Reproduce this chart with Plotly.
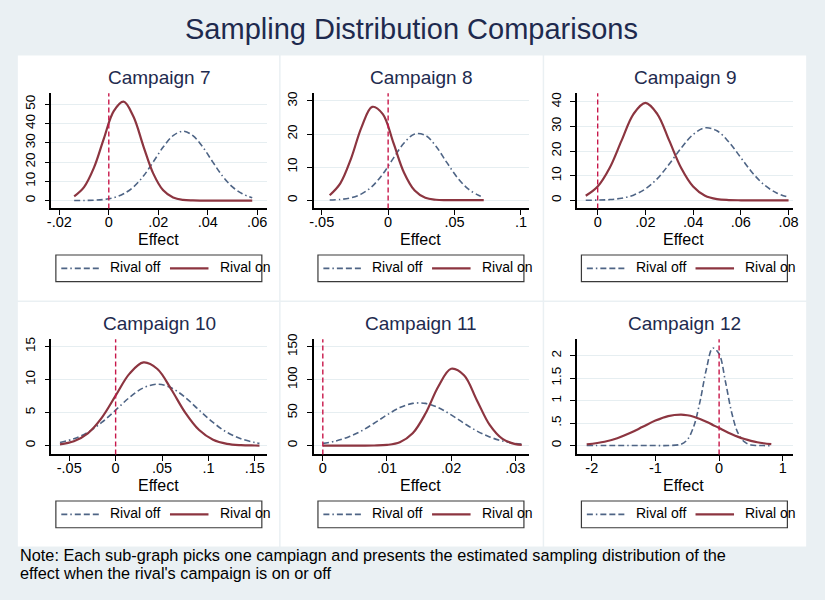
import plotly.graph_objects as go

# ---------------- data ----------------
main_title = "Sampling Distribution Comparisons"
note_lines = [
    "Note: Each sub-graph picks one campiagn and presents the estimated sampling distribution of the",
    "effect when the rival's campaign is on or off",
]
series_names = ["Rival off", "Rival on"]
x_title = "Effect"
ref_x = 0
campaigns = ["Campaign 7", "Campaign 8", "Campaign 9", "Campaign 10", "Campaign 11", "Campaign 12"]

c7_x = [-0.014, -0.010, -0.006, -0.002, 0.002, 0.006, 0.010, 0.014, 0.018, 0.022,
        0.026, 0.030, 0.034, 0.038, 0.042, 0.046, 0.050, 0.054, 0.058]
c7_off = [0.01, 0.05, 0.19, 0.56, 1.5, 3.5, 7.1, 12.7, 20.1, 27.8,
          33.7, 36.0, 33.7, 27.8, 20.1, 12.7, 7.1, 3.5, 1.5]
c7_on = [2.2, 7.0, 17.1, 32.2, 46.5, 51.4, 43.5, 28.2, 14.0, 5.3,
         1.6, 0.35, 0.06, 0.01, 0, 0, 0, 0, 0]

c8_x = [-0.044, -0.036, -0.028, -0.020, -0.012, -0.004, 0.004, 0.012, 0.020,
        0.028, 0.036, 0.044, 0.052, 0.060, 0.068, 0.072]
c8_off = [0.06, 0.23, 0.72, 1.9, 4.2, 7.9, 12.7, 17.3, 20.0,
          19.6, 16.3, 11.5, 6.9, 3.5, 1.5, 0.93]
c8_on = [1.5, 5.1, 12.5, 22.1, 28.2, 26.0, 17.3, 8.3, 2.9,
         0.72, 0.13, 0.02, 0, 0, 0, 0]

c9_x = [-0.005, 0.000, 0.005, 0.010, 0.015, 0.020, 0.025, 0.030, 0.035, 0.040,
        0.045, 0.050, 0.055, 0.060, 0.065, 0.070, 0.075, 0.080]
c9_off = [0.02, 0.09, 0.30, 0.85, 2.1, 4.6, 8.8, 14.7, 21.2, 26.7,
          29.4, 28.2, 23.6, 17.3, 11.0, 6.1, 3.0, 1.25]
c9_on = [1.85, 5.6, 13.1, 24.2, 35.0, 39.5, 35.0, 24.2, 13.1, 5.6,
         1.85, 0.48, 0.1, 0.015, 0, 0, 0, 0]

c10_x = [-0.060, -0.045, -0.030, -0.015, 0.000, 0.015, 0.030, 0.045, 0.060,
         0.075, 0.090, 0.105, 0.120, 0.135, 0.150, 0.155]
c10_off = [0.47, 1.03, 2.0, 3.5, 5.37, 7.3, 8.75, 9.3, 8.75,
           7.3, 5.37, 3.5, 2.0, 1.03, 0.47, 0.35]
c10_on = [0.19, 0.65, 1.85, 4.2, 7.56, 10.9, 12.6, 11.6, 8.5,
          5.0, 2.35, 0.88, 0.26, 0.06, 0.01, 0.0]

c11_x = [0.000, 0.002, 0.004, 0.006, 0.008, 0.010, 0.012, 0.014, 0.016,
         0.018, 0.020, 0.022, 0.024, 0.026, 0.028, 0.030, 0.031]
c11_off = [3.3, 6.9, 13.1, 22.2, 33.9, 46.6, 57.7, 64.1, 64.1,
           57.7, 46.6, 33.9, 22.2, 13.1, 6.9, 3.3, 2.2]
c11_on = [0, 0, 0, 0.01, 0.13, 0.95, 5.0, 18.6, 48.7,
          89.8, 116.7, 106.9, 69.0, 31.4, 10.1, 2.3, 0.95]

c12_x = [-2.08, -1.8, -1.6, -1.4, -1.2, -1.0, -0.8, -0.6, -0.5, -0.4, -0.3,
         -0.2, -0.1, 0.0, 0.1, 0.2, 0.3, 0.4, 0.5, 0.6, 0.7, 0.82]
c12_off = [0, 0, 0, 0, 0, 0, 0, 0.03, 0.13, 0.42, 0.98,
           1.70, 2.17, 2.04, 1.42, 0.72, 0.27, 0.08, 0.015, 0.002, 0, 0]
c12_on = [0.028, 0.086, 0.164, 0.278, 0.417, 0.556, 0.657, 0.689, 0.675, 0.642, 0.592,
          0.530, 0.460, 0.39, 0.317, 0.252, 0.194, 0.145, 0.106, 0.074, 0.051, 0.031]

x_tickvals = [[-0.02, 0, 0.02, 0.04, 0.06], [-0.05, 0, 0.05, 0.1], [0, 0.02, 0.04, 0.06, 0.08],
              [-0.05, 0, 0.05, 0.1, 0.15], [0, 0.01, 0.02, 0.03], [-2, -1, 0, 1]]
x_ticktext = [["-.02", "0", ".02", ".04", ".06"], ["-.05", "0", ".05", ".1"], ["0", ".02", ".04", ".06", ".08"],
              ["-.05", "0", ".05", ".1", ".15"], ["0", ".01", ".02", ".03"], ["-2", "-1", "0", "1"]]
y_tickvals = [[0, 10, 20, 30, 40, 50], [0, 10, 20, 30], [0, 10, 20, 30, 40],
              [0, 5, 10, 15], [0, 50, 100, 150], [0, 0.5, 1, 1.5, 2]]
y_ticktext = [["0", "10", "20", "30", "40", "50"], ["0", "10", "20", "30"], ["0", "10", "20", "30", "40"],
              ["0", "5", "10", "15"], ["0", "50", "100", "150"], ["0", ".5", "1", "1.5", "2"]]

panel_x = [c7_x, c8_x, c9_x, c10_x, c11_x, c12_x]
panel_off = [c7_off, c8_off, c9_off, c10_off, c11_off, c12_off]
panel_on = [c7_on, c8_on, c9_on, c10_on, c11_on, c12_on]

# ---------------- layout / style ----------------
W, H = 825, 600
BG = "#EAF0F3"
NAVY = "#1E2A4E"
OFF_C = "#4E6485"
ON_C = "#8C3540"
REF_C = "#C8174A"
GRID_C = "#E6EEF1"
FONT = "Liberation Sans, Arial, sans-serif"
OFF_DASH = "6px,3px,1.5px,3px,6px,3px,6px,3px"

x_ranges = [[-0.0232, 0.064], [-0.0562, 0.1062], [-0.00868, 0.0817],
            [-0.0692, 0.1632], [-0.00145, 0.03215], [-2.233, 1.155]]
y_ranges = [[-4.1, 55.7], [-2.5, 32.3], [-3.3, 43.4],
            [-1.35, 16.1], [-13.5, 161.4], [-0.198, 2.365]]

plot_x0 = [48, 313.3, 580]
plot_y0 = [88.2, 336.7]
PW, PH = 218.3, 116.3
panel_cols = [(14, 278.5), (280, 545.3), (546.8, 812)]
panel_rows = [(50, 297.5), (299, 546)]


def fx(px):
    return px / W


def fy(py):
    return 1 - py / H


fig = go.Figure()
shapes = []
annotations = []

# panel backgrounds
for (r0, r1) in panel_rows:
    for (c0, c1) in panel_cols:
        shapes.append(dict(type="rect", xref="paper", yref="paper", x0=fx(c0), x1=fx(c1),
                           y0=fy(r1), y1=fy(r0), fillcolor="white", line=dict(width=0), layer="below"))

layout_axes = {}
for i in range(6):
    r, c = divmod(i, 3)
    ax = "" if i == 0 else str(i + 1)
    x0 = plot_x0[c]
    y0 = plot_y0[r]
    fig.add_trace(go.Scatter(x=panel_x[i], y=panel_off[i], mode="lines", name=series_names[0],
                             line=dict(color=OFF_C, width=1.6, dash=OFF_DASH, shape="spline", smoothing=1.0),
                             xaxis="x" + ax, yaxis="y" + ax, showlegend=False))
    fig.add_trace(go.Scatter(x=panel_x[i], y=panel_on[i], mode="lines", name=series_names[1],
                             line=dict(color=ON_C, width=2.2, shape="spline", smoothing=1.0),
                             xaxis="x" + ax, yaxis="y" + ax, showlegend=False))
    layout_axes["xaxis" + ax] = dict(
        domain=[fx(x0), fx(x0 + PW)], anchor="y" + ax, range=x_ranges[i],
        tickvals=x_tickvals[i], ticktext=x_ticktext[i], ticks="outside", ticklen=5, tickwidth=1.2,
        tickcolor="black", showline=True, linecolor="black", linewidth=1.6, showgrid=False,
        zeroline=False, tickfont=dict(family=FONT, size=14.5, color="black"), ticklabelstandoff=-6,
        fixedrange=True)
    layout_axes["yaxis" + ax] = dict(
        domain=[fy(y0 + PH), fy(y0)], anchor="x" + ax, range=y_ranges[i],
        tickvals=y_tickvals[i], ticktext=y_ticktext[i], ticks="outside", ticklen=5, tickwidth=1.2,
        tickcolor="black", showline=True, linecolor="black", linewidth=1.6, showgrid=True,
        gridcolor=GRID_C, gridwidth=1, zeroline=False, tickangle=-90, ticklabelstandoff=4,
        tickfont=dict(family=FONT, size=13.5, color="black"), fixedrange=True)
    # reference line at zero
    shapes.append(dict(type="line", xref="x" + ax, yref="y" + ax + " domain", x0=ref_x, x1=ref_x,
                       y0=0, y1=1, line=dict(color=REF_C, width=1.4, dash="5px,3px"), layer="above"))
    # panel title
    annotations.append(dict(text=campaigns[i], xref="paper", yref="paper", x=fx(x0 + PW / 2),
                            y=fy(y0 - 16), xanchor="center", yanchor="middle", showarrow=False,
                            font=dict(family=FONT, size=19, color=NAVY)))
    # axis title
    annotations.append(dict(text=x_title, xref="paper", yref="paper", x=fx(x0 + PW / 2 - 1),
                            y=fy(y0 + PH + 31), xanchor="center", yanchor="middle", showarrow=False,
                            font=dict(family=FONT, size=16, color="black")))
    # legend box
    ly = y0 + PH + 60.5
    shapes.append(dict(type="rect", xref="paper", yref="paper", x0=fx(x0 + 4.5), x1=fx(x0 + 213),
                       y0=fy(ly + 13.5), y1=fy(ly - 13.5), fillcolor="white",
                       line=dict(color="#3A3A3A", width=1.2), layer="above"))
    shapes.append(dict(type="line", xref="paper", yref="paper", x0=fx(x0 + 10), x1=fx(x0 + 48),
                       y0=fy(ly), y1=fy(ly), line=dict(color=OFF_C, width=1.6, dash=OFF_DASH),
                       layer="above"))
    shapes.append(dict(type="line", xref="paper", yref="paper", x0=fx(x0 + 120), x1=fx(x0 + 159),
                       y0=fy(ly), y1=fy(ly), line=dict(color=ON_C, width=2.2), layer="above"))
    annotations.append(dict(text=series_names[0], xref="paper", yref="paper", x=fx(x0 + 57.5),
                            y=fy(ly - 1), xanchor="left", yanchor="middle", showarrow=False,
                            font=dict(family=FONT, size=14, color="black")))
    annotations.append(dict(text=series_names[1], xref="paper", yref="paper", x=fx(x0 + 168.5),
                            y=fy(ly - 1), xanchor="left", yanchor="middle", showarrow=False,
                            font=dict(family=FONT, size=14, color="black")))

annotations.append(dict(text=main_title, xref="paper", yref="paper", x=fx(412), y=fy(23),
                        xanchor="center", yanchor="middle", showarrow=False,
                        font=dict(family=FONT, size=29, color=NAVY)))
for k, line in enumerate(note_lines):
    annotations.append(dict(text=line, xref="paper", yref="paper", x=fx(14), y=fy(555 + 18 * k),
                            xanchor="left", yanchor="middle", showarrow=False,
                            font=dict(family=FONT, size=16.3, color="black")))

fig.update_layout(
    width=W, height=H, margin=dict(l=0, r=0, t=0, b=0),
    paper_bgcolor=BG, plot_bgcolor="white", showlegend=False,
    shapes=shapes, annotations=annotations, **layout_axes,
)

fig.write_html("out.html", config={"displayModeBar": False})
